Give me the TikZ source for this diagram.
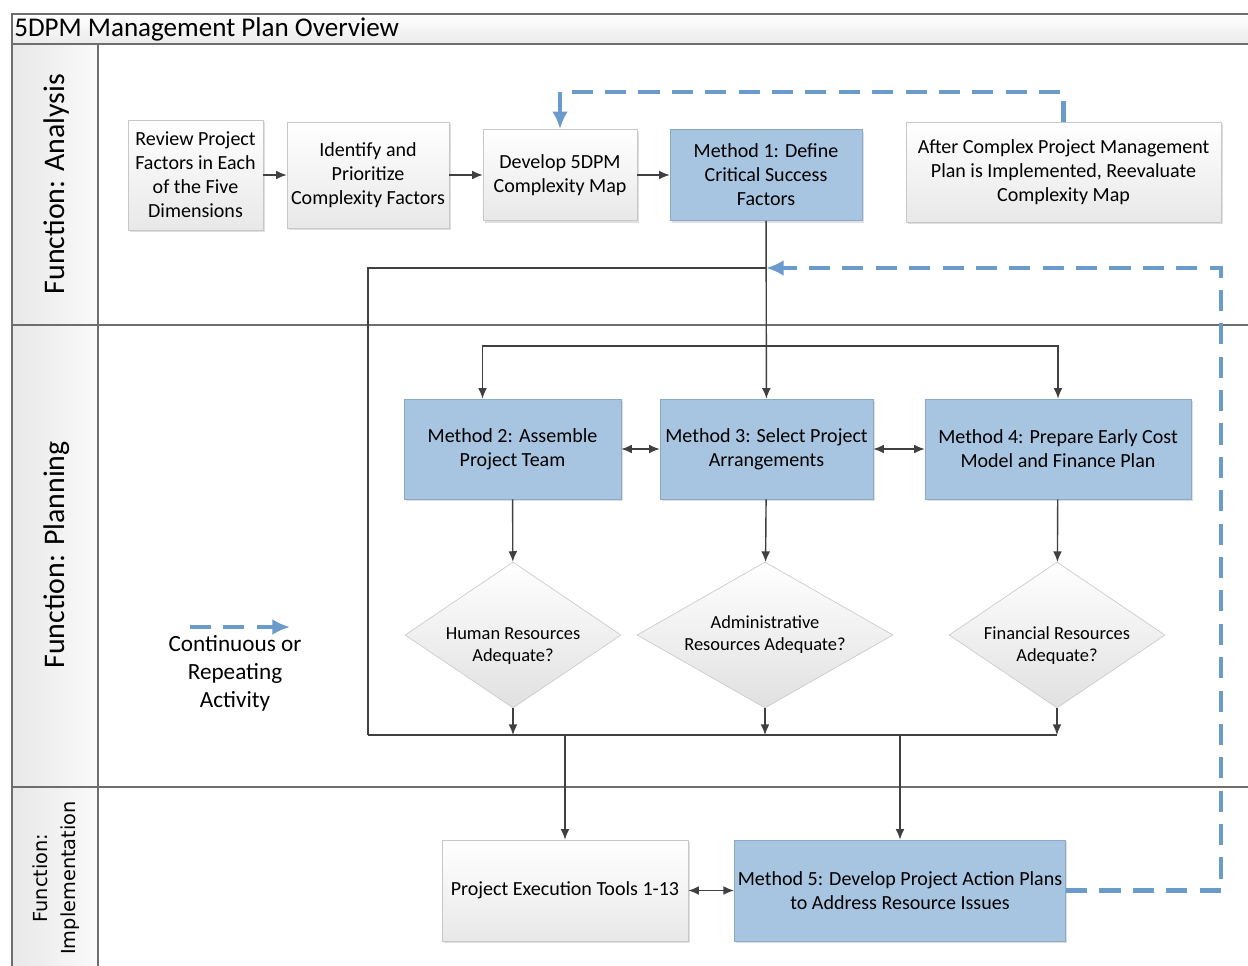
\documentclass[tikz,border=0pt]{standalone}
\usepackage{fontspec}
\setmainfont{Carlito}
\newfontfamily\widesans{DejaVu Sans}
\usetikzlibrary{arrows.meta,shapes.geometric,shadows}
\definecolor{methodblue}{HTML}{A7C4E0}
\definecolor{methodedge}{HTML}{8AA8C8}
\definecolor{loopblue}{HTML}{6A9BCB}
\definecolor{lineg}{HTML}{404040}
\definecolor{laneg}{HTML}{6E6E6E}
\newcommand{\lowline}{\rule{0pt}{19pt}}

\begin{document}
\begin{tikzpicture}[x = 0.02cm, y = -0.02cm,
  every node/.style = {align = center, inner sep = 2pt, font = \fontsize{11.4}{13.6}\selectfont},
  graybox/.style = {draw = black!22, top color = white, bottom color = black!9, drop shadow = {shadow xshift = 1pt, shadow yshift = -1.2pt, opacity = 0.25}},
  bluebox/.style = {draw = methodedge, fill = methodblue, drop shadow = {shadow xshift = 1pt, shadow yshift = -1.2pt, opacity = 0.25}},
  check/.style = {shape = diamond, draw = black!20, top color = white, bottom color = black!12, inner sep = -6pt, aspect = 1.5, font = \fontsize{10.5}{12.5}\selectfont},
  flow/.style = {draw = lineg, line width = 0.8pt, -{Latex[length = 6pt, width = 5pt]}},
  link/.style = {draw = lineg, line width = 0.8pt},
  both/.style = {draw = lineg, line width = 0.8pt, {Latex[length = 6pt, width = 5pt]}-{Latex[length = 6pt, width = 5pt]}},
  loopline/.style = {draw = loopblue, line width = 2.3pt, dash pattern = on 12pt off 7pt, -{Latex[length = 10pt, width = 9pt]}}]

  \useasboundingbox (0, 0) rectangle (1248, 966);
  \fill[white] (0, 0) rectangle (1248, 966);

  \fill[top color = white, bottom color = black!8] (12, 14) rectangle (1248, 44);
  \fill[left color = black!9, right color = black!2] (12, 44) rectangle (98, 966);
  \draw[laneg, line width = 1pt] (1248, 14) -- (12, 14) -- (12, 966);
  \draw[laneg, line width = 1pt] (12, 44) -- (1248, 44);
  \draw[laneg, line width = 1pt] (98, 44) -- (98, 966);
  \draw[laneg, line width = 1pt] (12, 325) -- (1248, 325);
  \draw[laneg, line width = 1pt] (12, 787) -- (1248, 787);

  \node[anchor = west, inner sep = 0pt, font = \fontsize{15.4}{18}\selectfont] (title) at (14, 29) {5DPM Management Plan Overview};
  \node[rotate = 90, font = \fontsize{17}{20}\selectfont] (analysis) at (57, 184) {Function: Analysis};
  \node[rotate = 90, font = \fontsize{17}{20}\selectfont] (planning) at (57, 555) {Function: Planning};
  \node[rotate = 90, font = \widesans\fontsize{11}{16}\selectfont] (implementation) at (56, 878) {Function:\\Implementation};

  \node[graybox, minimum width = 2.7cm, minimum height = 2.2cm] (review) at (195.5, 175) {Review Project\\Factors in Each\\of the Five\\Dimensions};
  \node[graybox, minimum width = 3.24cm, minimum height = 2.12cm] (identify) at (368, 175) {Identify and\\Prioritize\\Complexity Factors};
  \node[graybox, minimum width = 3.08cm, minimum height = 1.82cm] (develop) at (560, 175) {Develop 5DPM\\Complexity Map};
  \node[bluebox, minimum width = 3.84cm, minimum height = 1.82cm] (m1) at (766, 175) {Method 1: Define\\Critical Success\\Factors};
  \node[graybox, minimum width = 6.3cm, minimum height = 2cm] (after) at (1063.5, 172) {After Complex Project Management\\Plan is Implemented, Reevaluate\\Complexity Map};

  \node[bluebox, minimum width = 4.34cm, minimum height = 2cm] (m2) at (512.5, 449) {Method 2: Assemble\\Project Team};
  \node[bluebox, minimum width = 4.26cm, minimum height = 2cm] (m3) at (766.5, 449) {Method 3: Select Project\\Arrangements};
  \node[bluebox, minimum width = 5.32cm, minimum height = 2cm] (m4) at (1058, 449) {Method 4: Prepare Early Cost\\Model and Finance Plan};

  \node[check, minimum width = 4.32cm, minimum height = 2.92cm] (human) at (513, 635) {\lowline Human Resources\\Adequate?};
  \node[check, minimum width = 5.12cm, minimum height = 2.92cm] (admin) at (765, 635) {Administrative\\Resources Adequate?};
  \node[check, minimum width = 4.32cm, minimum height = 2.92cm] (finance) at (1057, 635) {\lowline Financial Resources\\Adequate?};

  \node[graybox, minimum width = 4.92cm, minimum height = 2.02cm] (tools) at (565, 890.5) {Project Execution Tools 1-13};
  \node[bluebox, minimum width = 6.6cm, minimum height = 2.02cm] (m5) at (900, 890.5) {Method 5: Develop Project Action Plans\\to Address Resource Issues};

  \node[font = \fontsize{13.2}{16}\selectfont] (legend) at (235, 673) {Continuous or\\Repeating\\Activity};
  \coordinate (lega) at (190, 627);
  \coordinate (legb) at (290, 627);

  \coordinate (split) at (766, 346);
  \coordinate (loop) at (766, 268);
  \coordinate (merge) at (368, 735);
  \coordinate (ret) at (1221, 268);

  \draw[flow] (review) -- (identify);
  \draw[flow] (identify) -- (develop);
  \draw[flow] (develop) -- (m1);
  \draw[flow] (m1) -- (m3);
  \draw[flow] (split) -| ([xshift = -0.6cm]m2.north);
  \draw[flow] (split) -| (m4.north);
  \draw[both] (m2) -- (m3);
  \draw[both] (m3) -- (m4);
  \draw[flow] (m2) -- (human);
  \draw[flow] (m3) -- (admin);
  \draw[flow] (m4) -- (finance);
  \draw[flow] (human) -- (human |- merge);
  \draw[flow] (admin) -- (admin |- merge);
  \draw[flow] (finance) -- (finance |- merge);
  \draw[link] (merge) -- (merge -| finance);
  \draw[link] (merge) |- (loop);
  \draw[flow] (tools |- merge) -- (tools);
  \draw[flow] (m5 |- merge) -- (m5);
  \draw[both] (tools) -- (m5);

  \draw[loopline] (after.north) -- ++(0, -30) -| (develop.north);
  \draw[loopline] (m5.east) -| (ret) -- (loop);
  \draw[loopline] (lega) -- (legb);

\end{tikzpicture}
\end{document}
